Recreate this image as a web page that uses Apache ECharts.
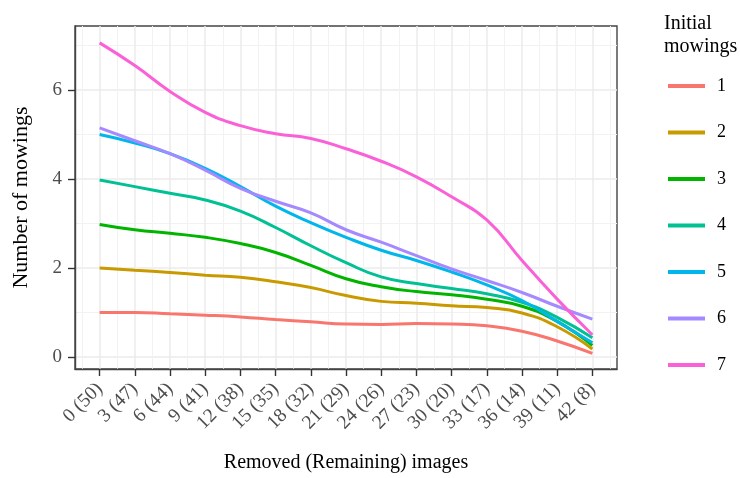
<!DOCTYPE html>
<html>
<head>
<meta charset="utf-8">
<script src="https://cdn.jsdelivr.net/npm/echarts@6/dist/echarts.min.js"></script>
<style>html,body{margin:0;padding:0;background:#fff}#c{width:740px;height:478px}</style>
</head>
<body>
<div id="c"></div>
<script>
const removed = [0, 3, 6, 9, 12, 15, 18, 21, 24, 27, 30, 33, 36, 39, 42];
const remaining = [50, 47, 44, 41, 38, 35, 32, 29, 26, 23, 20, 17, 14, 11, 8];
const seriesNames = ['1', '2', '3', '4', '5', '6', '7'];
const s1 = [1.00, 1.00, 0.97, 0.94, 0.90, 0.84, 0.79, 0.74, 0.73, 0.75, 0.74, 0.70, 0.58, 0.36, 0.08];
const s2 = [2.00, 1.95, 1.90, 1.84, 1.79, 1.69, 1.56, 1.38, 1.25, 1.21, 1.15, 1.11, 0.99, 0.68, 0.18];
const s3 = [2.98, 2.86, 2.78, 2.69, 2.55, 2.35, 2.06, 1.76, 1.58, 1.47, 1.40, 1.30, 1.14, 0.80, 0.26];
const s4 = [3.98, 3.83, 3.68, 3.53, 3.28, 2.91, 2.50, 2.12, 1.80, 1.65, 1.54, 1.42, 1.23, 0.89, 0.43];
const s5 = [5.00, 4.81, 4.57, 4.24, 3.83, 3.39, 3.02, 2.69, 2.40, 2.17, 1.91, 1.62, 1.27, 0.80, 0.32];
const s6 = [5.15, 4.86, 4.57, 4.20, 3.79, 3.50, 3.24, 2.86, 2.58, 2.28, 1.98, 1.72, 1.45, 1.14, 0.85];
const s7 = [7.06, 6.55, 5.97, 5.50, 5.20, 5.02, 4.91, 4.68, 4.40, 4.05, 3.60, 3.08, 2.17, 1.30, 0.50];
const yTicks = [0, 2, 4, 6];
const yMinor = [1, 3, 5, 7];
const xMinor = [-1.5, 1.5, 4.5, 7.5, 10.5, 13.5, 16.5, 19.5, 22.5, 25.5, 28.5, 31.5, 34.5, 37.5, 40.5, 43.5];
const xLabels = removed.map((r, i) => r + ' (' + remaining[i] + ')');

const colors = ['#F8766D', '#C99A00', '#00B400', '#00C094', '#00B6EB', '#A58AFF', '#FB61D7'];
const allSeries = [s1, s2, s3, s4, s5, s6, s7];
const FONT = 'Liberation Serif';

const chart = echarts.init(document.getElementById('c'), null, {renderer: 'canvas'});
const xr = {min: -2.1, max: 44.1};
const yr = {min: -0.27, max: 7.44};
const option = {
  animation: false,
  color: colors,
  grid: {left: 75, top: 26, width: 542, height: 347, show: true, borderColor: '#444', borderWidth: 1.4, backgroundColor: '#fff'},
  title: {
    text: 'Initial\nmowings', left: 664, top: 12, padding: 0,
    textStyle: {fontFamily: FONT, fontSize: 20, fontWeight: 'normal', color: '#000', lineHeight: 23}
  },
  legend: {
    orient: 'vertical', left: 668, top: 76, padding: 0, itemWidth: 37, itemHeight: 4, itemGap: 26.5,
    icon: 'rect',
    textStyle: {fontFamily: FONT, fontSize: 18, color: '#000', lineHeight: 20, padding: [0, 0, 0, 7]},
    data: seriesNames
  },
  xAxis: [{
    type: 'value', min: xr.min, max: xr.max, gridIndex: 0,
    name: 'Removed (Remaining) images', nameLocation: 'middle', nameGap: 84,
    nameTextStyle: {fontFamily: FONT, fontSize: 20, color: '#000'},
    axisLine: {show: true, onZero: false, lineStyle: {color: '#444', width: 1.4}},
    axisTick: {show: true, length: 7, customValues: removed, lineStyle: {color: '#333', width: 1.4}},
    axisLabel: {customValues: removed, rotate: 45, margin: 17, fontFamily: FONT, fontSize: 19.5, color: '#4D4D4D',
      formatter: v => { const i = removed.indexOf(Math.round(v)); return i >= 0 ? xLabels[i] : ''; }},
    splitLine: {show: true, lineStyle: {color: '#EBEBEB', width: 1.5}}
  }, {
    type: 'value', min: xr.min, max: xr.max, gridIndex: 0, position: 'bottom',
    axisLine: {show: false, onZero: false}, axisLabel: {show: false},
    axisTick: {show: false, customValues: xMinor},
    splitLine: {show: true, lineStyle: {color: '#F2F2F2', width: 1}}
  }],
  yAxis: [{
    type: 'value', min: yr.min, max: yr.max, gridIndex: 0,
    name: 'Number of mowings', nameLocation: 'middle', nameGap: 43, nameRotate: 90,
    nameTextStyle: {fontFamily: FONT, fontSize: 22, color: '#000'},
    axisLine: {show: true, onZero: false, lineStyle: {color: '#444', width: 1.4}},
    axisTick: {show: true, length: 7, customValues: yTicks, lineStyle: {color: '#333', width: 1.4}},
    axisLabel: {customValues: yTicks, margin: 13, fontFamily: FONT, fontSize: 19, color: '#4D4D4D'},
    splitLine: {show: true, lineStyle: {color: '#EBEBEB', width: 1.5}}
  }, {
    type: 'value', min: yr.min, max: yr.max, gridIndex: 0, position: 'left',
    axisLine: {show: false, onZero: false}, axisLabel: {show: false},
    axisTick: {show: false, customValues: yMinor},
    splitLine: {show: true, lineStyle: {color: '#F2F2F2', width: 1}}
  }],
  series: allSeries.map((vals, k) => ({
    name: seriesNames[k], type: 'line', xAxisIndex: 0, yAxisIndex: 0,
    data: removed.map((x, i) => [x, vals[i]]),
    smooth: 0.5, showSymbol: false, symbol: 'none',
    lineStyle: {width: 3, color: colors[k]},
    itemStyle: {color: colors[k]},
    z: 3 + k
  }))
};
chart.setOption(option);
</script>
</body>
</html>
